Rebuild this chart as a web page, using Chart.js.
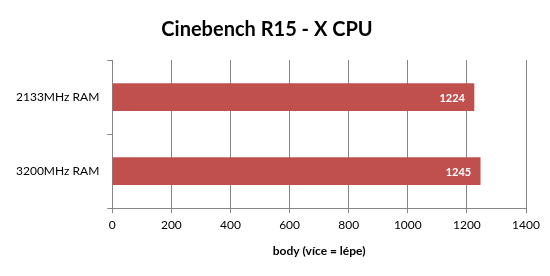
<!DOCTYPE html>
<html>
<head>
<meta charset="utf-8">
<script src="https://cdn.jsdelivr.net/npm/chart.js@4"></script>
<style>
  html, body { margin: 0; padding: 0; background: #fff; }
  #wrap { width: 550px; height: 276px; }
</style>
</head>
<body>
<div id="wrap"><canvas id="graf"></canvas></div>
<script>
const kategorie = ['2133MHz RAM', '3200MHz RAM'];
const hodnoty = [1224, 1245];
const osaX = [0, 200, 400, 600, 800, 1000, 1200, 1400];

const barva = '#C0504D';
const seda = '#868686';

// popisky hodnot uvnitr konce sloupce
const popiskyHodnot = {
    id: 'popiskyHodnot',
    afterDatasetsDraw(chart) {
        const ctx = chart.ctx;
        const meta = chart.getDatasetMeta(0);
        ctx.save();
        ctx.font = 'bold 11px Lato, "DejaVu Sans", sans-serif';
        ctx.fillStyle = '#fff';
        ctx.textAlign = 'right';
        ctx.textBaseline = 'middle';
        meta.data.forEach((bar, i) => {
            ctx.fillText(hodnoty[i], bar.x - 9, bar.y + 1);
        });
        ctx.restore();
    }
};

new Chart(document.getElementById('graf'), {
    type: 'bar',
    data: {
        labels: kategorie,
        datasets: [{
            data: hodnoty,
            backgroundColor: barva,
            barThickness: 27
        }]
    },
    options: {
        indexAxis: 'y',
        responsive: true,
        maintainAspectRatio: false,
        animation: false,
        layout: { padding: { left: 8, right: 24, top: 4, bottom: 18 } },
        plugins: {
            legend: { display: false },
            tooltip: { enabled: false },
            title: {
                display: true,
                text: 'Cinebench R15 - X CPU',
                color: '#000',
                font: { family: 'Lato, sans-serif', size: 20, weight: 'bold' },
                padding: { top: 14, bottom: 18 }
            }
        },
        scales: {
            x: {
                min: 0,
                max: 1400,
                afterBuildTicks: (scale) => { scale.ticks = osaX.map(v => ({ value: v })); },
                grid: { color: seda, tickLength: 5, drawOnChartArea: true },
                border: { color: seda },
                ticks: {
                    color: '#000',
                    font: { family: 'Lato, sans-serif', size: 12 },
                    padding: 5,
                    callback: (v) => String(v)
                },
                title: {
                    display: true,
                    text: 'body (více = lépe)',
                    color: '#000',
                    font: { family: 'Lato, sans-serif', size: 12, weight: 'bold' },
                    padding: { top: 6, bottom: 0 }
                }
            },
            y: {
                grid: { color: seda, tickLength: 5, drawOnChartArea: false, offset: true },
                border: { color: seda },
                ticks: {
                    color: '#000',
                    font: { family: 'Lato, sans-serif', size: 12 },
                    padding: 8
                }
            }
        }
    },
    plugins: [popiskyHodnot]
});
</script>
</body>
</html>
